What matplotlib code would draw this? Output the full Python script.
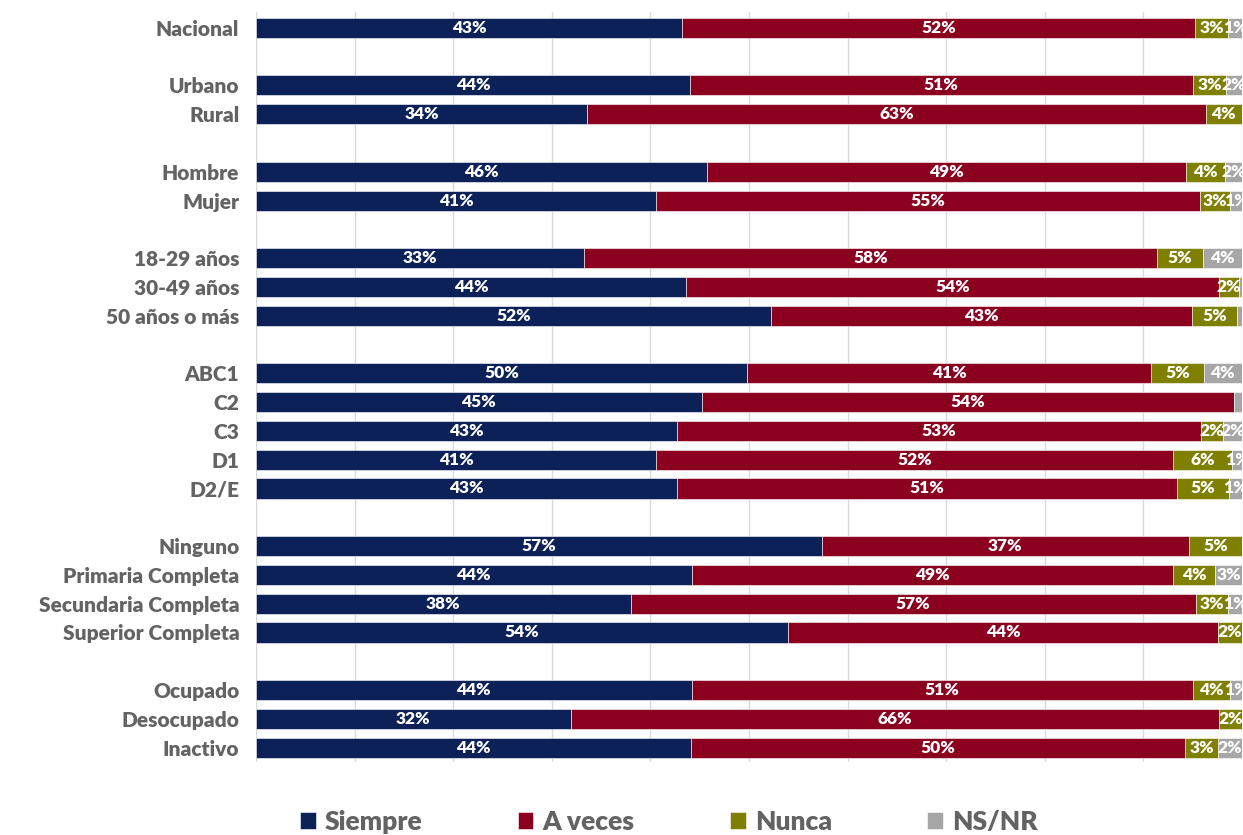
import matplotlib.pyplot as plt
import numpy as np

categories = ["Nacional", "Urbano", "Rural", "Hombre", "Mujer",
              "18-29 años", "30-49 años", "50 años o más",
              "ABC1", "C2", "C3", "D1", "D2/E",
              "Ninguno", "Primaria Completa", "Secundaria Completa", "Superior Completa",
              "Ocupado", "Desocupado", "Inactivo"]
# slot of each row, empty slots make the group gaps
slots = [0, 2, 3, 5, 6, 8, 9, 10, 12, 13, 14, 15, 16, 18, 19, 20, 21, 23, 24, 25]

siempre = [43.2, 44.0, 33.6, 45.7, 40.6, 33.3, 43.6, 52.2, 49.8, 45.2, 42.7, 40.6, 42.7,
           57.4, 44.2, 38.0, 54.0, 44.2, 31.9, 44.1]
a_veces = [52.0, 51.0, 62.7, 48.6, 55.1, 58.1, 54.1, 42.7, 41.0, 54.0, 53.1, 52.4, 50.7,
           37.2, 48.8, 57.3, 43.6, 50.8, 65.8, 50.1]
nunca = [3.4, 3.4, 3.7, 4.0, 3.1, 4.6, 2.0, 4.6, 5.3, 0.0, 2.3, 6.0, 5.3,
         5.4, 4.3, 3.3, 2.4, 3.8, 2.3, 3.4]
ns_nr = [1.4, 1.6, 0.0, 1.7, 1.2, 4.0, 0.3, 0.5, 3.9, 0.8, 1.9, 1.0, 1.3,
         0.0, 2.7, 1.4, 0.0, 1.2, 0.0, 2.4]

series = [("Siempre", siempre, "#0c2158"),
          ("A veces", a_veces, "#8b001f"),
          ("Nunca", nunca, "#7f7f00"),
          ("NS/NR", ns_nr, "#a6a6a6")]

plt.rcParams['font.family'] = ['Lato', 'DejaVu Sans']
fig = plt.figure(figsize=(12.43, 8.35), dpi=100)
ax = fig.add_axes([256 / 1243, 1 - 762 / 835, 986 / 1243, 750 / 835])

left = np.zeros(len(categories))
for name, vals, color in series:
    vals = np.array(vals)
    ax.barh(slots, vals, left=left, height=0.7, color=color, label=name,
            edgecolor="white", linewidth=0.4, zorder=3)
    for y, l, v in zip(slots, left, vals):
        if v >= 1:
            ax.text(l + v / 2, y, f"{v:.0f}%", ha="center", va="center",
                    color="white", fontsize=12.5, fontweight="heavy", zorder=4)
    left += vals

ax.set_xlim(0, 100)
ax.set_ylim(25.5, -0.55)
ax.set_xticks(np.arange(0, 101, 10))
ax.set_xticklabels([])
ax.tick_params(axis="x", length=0)
ax.tick_params(axis="y", length=0, pad=12)
ax.grid(axis="x", color="#d9d9d9", linewidth=1, zorder=0)
ax.set_yticks(slots)
ax.set_yticklabels(categories, fontsize=15, fontweight="heavy", color="#636363")
for s in ax.spines.values():
    s.set_visible(False)

fig.legend(loc="center", bbox_to_anchor=(0.538, 0.016), ncol=4, frameon=False,
           prop={"size": 19, "weight": "heavy"}, labelcolor="#636363",
           handlelength=0.6, handleheight=0.6, columnspacing=3.6, handletextpad=0.35)

plt.savefig("out.png", dpi=100)
plt.close()
